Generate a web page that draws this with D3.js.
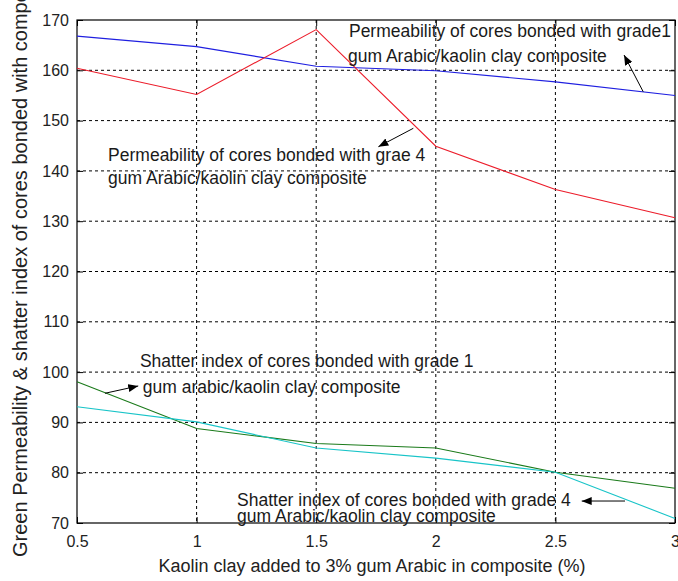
<!DOCTYPE html>
<html>
<head>
<meta charset="utf-8">
<script src="https://cdn.jsdelivr.net/npm/d3@7"></script>
<style>
  html, body { margin: 0; padding: 0; background: #fff; }
  svg { display: block; font-family: "Liberation Sans", Arial, Helvetica, sans-serif; }
</style>
</head>
<body>
<svg id="chart" width="678" height="581"></svg>
<script>
// ---- data ----
const kaolinPct = [0.5, 1, 1.5, 2, 2.5, 3];
const permGrade1 = [166.8, 164.7, 160.8, 159.9, 157.7, 155.0];
const permGrade4 = [160.4, 155.2, 168.1, 144.9, 136.3, 130.7];
const shatterGrade1 = [98.1, 88.8, 85.8, 84.9, 80.1, 76.9];
const shatterGrade4 = [93.1, 90.1, 84.9, 82.9, 80.1, 70.9];

const xTicks = [0.5, 1, 1.5, 2, 2.5, 3];
const xTickLabels = ["0.5", "1", "1.5", "2", "2.5", "3"];
const yTicks = [70, 80, 90, 100, 110, 120, 130, 140, 150, 160, 170];
const yTickLabels = ["70", "80", "90", "100", "110", "120", "130", "140", "150", "160", "170"];

const xAxisTitle = "Kaolin clay added to 3% gum Arabic in composite (%)";
const yAxisTitle = "Green Permeability & shatter index of cores bonded with composite";

// annotations: text lines with anchor (data units) and arrows (tail -> head, data units)
const annoLines = [
  { text: "Permeability of cores bonded with grade1", x: 1.637, y: 166.62 },
  { text: "gum Arabic/kaolin clay composite", x: 1.633, y: 161.72 },
  { text: "Permeability of cores bonded with grae 4", x: 0.630, y: 141.97 },
  { text: "gum Arabic/kaolin clay composite", x: 0.630, y: 137.40 },
  { text: "Shatter index of cores bonded with grade 1", x: 0.763, y: 101.07 },
  { text: "gum arabic/kaolin clay composite", x: 0.775, y: 95.94 },
  { text: "Shatter index of cores bonded with grade 4", x: 1.169, y: 73.44 },
  { text: "gum Arabic/kaolin clay composite", x: 1.169, y: 70.26 }
];
const arrows = [
  { x0: 2.867, y0: 155.75, x1: 2.787, y1: 163.04 },
  { x0: 1.906, y0: 148.47, x1: 1.760, y1: 144.81 },
  { x0: 0.617, y0: 95.79, x1: 0.756, y1: 97.24 },
  { x0: 2.791, y0: 74.37, x1: 2.610, y1: 74.37 }
];

// ---- layout ----
const W = 678, H = 581;
const m = { left: 77, top: 20, right: 3, bottom: 58 };
const pw = W - m.left - m.right, ph = H - m.top - m.bottom;

const svg = d3.select("#chart");
const g = svg.append("g").attr("transform", `translate(${m.left},${m.top})`);

const x = d3.scaleLinear().domain([0.5, 3]).range([0, pw]);
const y = d3.scaleLinear().domain([70, 170]).range([ph, 0]);

// grid
g.append("g").selectAll("line").data(xTicks.slice(1, -1)).join("line")
  .attr("x1", d => x(d)).attr("x2", d => x(d)).attr("y1", 0).attr("y2", ph)
  .attr("stroke", "#000").attr("stroke-width", 1).attr("stroke-dasharray", "3,3");
g.append("g").selectAll("line").data(yTicks.slice(1, -1)).join("line")
  .attr("y1", d => y(d)).attr("y2", d => y(d)).attr("x1", 0).attr("x2", pw)
  .attr("stroke", "#000").attr("stroke-width", 1).attr("stroke-dasharray", "3,3");

// axes (ticks inward)
const tickFont = 16;
const xAxis = d3.axisBottom(x).tickValues(xTicks).tickSize(-6).tickPadding(13)
  .tickFormat((d, i) => xTickLabels[i]);
const yAxis = d3.axisLeft(y).tickValues(yTicks).tickSize(-6).tickPadding(8)
  .tickFormat((d, i) => yTickLabels[i]);
const xTop = d3.axisTop(x).tickValues(xTicks).tickSize(-6).tickFormat("");
const yRight = d3.axisRight(y).tickValues(yTicks).tickSize(-6).tickFormat("");

function styleAxis(sel) {
  sel.select(".domain").remove();
  sel.selectAll(".tick line").attr("stroke", "#000");
  sel.selectAll("text").attr("fill", "#222").style("font-size", tickFont + "px")
    .style("font-family", "'Liberation Sans', Arial, sans-serif");
}
g.append("g").attr("transform", `translate(0,${ph})`).call(xAxis).call(styleAxis);
g.append("g").call(yAxis).call(styleAxis);
g.append("g").call(xTop).call(styleAxis);
g.append("g").attr("transform", `translate(${pw},0)`).call(yRight).call(styleAxis);

// box
g.append("rect").attr("x", 0).attr("y", 0).attr("width", pw).attr("height", ph)
  .attr("fill", "none").attr("stroke", "#000").attr("stroke-width", 1.2);

// series
const line = d3.line().x((d, i) => x(kaolinPct[i])).y(d => y(d));
const series = [
  { vals: permGrade1, color: "#1f1fe0" },
  { vals: permGrade4, color: "#ec1c2a" },
  { vals: shatterGrade1, color: "#1a7a1a" },
  { vals: shatterGrade4, color: "#18c4c8" }
];
g.append("g").selectAll("path").data(series).join("path")
  .attr("d", d => line(d.vals)).attr("fill", "none")
  .attr("stroke", d => d.color).attr("stroke-width", 1.1);

// arrow marker
svg.append("defs").append("marker").attr("id", "ah")
  .attr("markerUnits", "userSpaceOnUse").attr("viewBox", "0 0 10 8")
  .attr("refX", 10).attr("refY", 4).attr("markerWidth", 10).attr("markerHeight", 8)
  .attr("orient", "auto")
  .append("path").attr("d", "M0,0 L10,4 L0,8 Z").attr("fill", "#000");

g.append("g").selectAll("line").data(arrows).join("line")
  .attr("x1", d => x(d.x0)).attr("y1", d => y(d.y0))
  .attr("x2", d => x(d.x1)).attr("y2", d => y(d.y1))
  .attr("stroke", "#000").attr("stroke-width", 1).attr("marker-end", "url(#ah)");

// annotation text
g.append("g").selectAll("text").data(annoLines).join("text")
  .attr("x", d => x(d.x)).attr("y", d => y(d.y))
  .attr("fill", "#1a1a1a").style("font-size", "17.5px")
  .text(d => d.text);

// axis titles
svg.append("text").attr("x", m.left + pw / 2 - 4).attr("y", 572)
  .attr("text-anchor", "middle").attr("fill", "#222").style("font-size", "18px")
  .text(xAxisTitle);
svg.append("text").attr("transform", "translate(27,557) rotate(-90)")
  .attr("text-anchor", "start").attr("fill", "#222").style("font-size", "20px")
  .text(yAxisTitle);
</script>
</body>
</html>
